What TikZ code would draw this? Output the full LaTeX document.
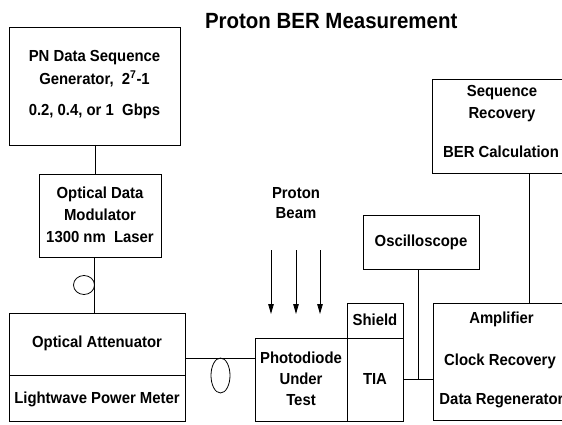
\documentclass[tikz,border=0pt]{standalone}
\usepackage{fontspec}
\setmainfont[FakeStretch=0.93]{Liberation Sans}
\usetikzlibrary{arrows.meta,shapes.geometric}
\begin{document}
\begin{tikzpicture}[x=1pt,y=-1pt,
  every node/.style={inner sep=0pt,outer sep=0pt},
  box/.style={draw,line width=0.8pt,inner sep=0pt,outer sep=0pt},
  lbl/.style={font=\fontsize{16}{19}\selectfont\bfseries},
  conn/.style={line width=0.8pt},
  beam/.style={line width=0.8pt,-{Triangle[length=10pt,width=5.5pt]}}]
\useasboundingbox (0,0) rectangle (562,425);
\clip (0,0) rectangle (562,425);
% title
\node[anchor=west,font=\fontsize{22}{26}\selectfont\bfseries] (title) at (205,21) {Proton BER Measurement};
% boxes
\node[box,minimum width=171pt,minimum height=118pt] (pn) at (94.5,86) {};
\node[box,minimum width=122pt,minimum height=83pt] (mod) at (100,215.5) {};
\node[box,minimum width=176pt,minimum height=62pt] (att) at (97,344) {};
\node[box,minimum width=176pt,minimum height=46pt] (pm) at (97,398) {};
\node[box,minimum width=92pt,minimum height=83pt] (pd) at (301,379.5) {};
\node[box,minimum width=56pt,minimum height=35pt] (sh) at (375,320.5) {};
\node[box,minimum width=56pt,minimum height=83pt] (tia) at (375,379.5) {};
\node[box,minimum width=116pt,minimum height=54pt] (osc) at (421,242) {};
\node[box,minimum width=137pt,minimum height=117pt] (amp) at (501.5,361.5) {};
\node[box,minimum width=138pt,minimum height=94pt] (seq) at (501,126) {};
% texts
\node[lbl] (t1) at (94.5,58) {PN Data Sequence};
\node[lbl] (t2) at (94.5,79) {Generator,\ \ 2\textsuperscript{7}-1};
\node[lbl] (t3) at (94.5,111) {0.2,\ 0.4,\ or 1\ \ Gbps};
\node[lbl] (t4) at (100,194) {Optical Data};
\node[lbl] (t5) at (100,215) {Modulator};
\node[lbl] (t6) at (100,237) {1300 nm\ \ Laser};
\node[lbl] (t7) at (97,343) {Optical Attenuator};
\node[lbl] (t8) at (97,399) {Lightwave Power Meter};
\node[lbl] (t9) at (301,358) {Photodiode};
\node[lbl] (t10) at (301,379) {Under};
\node[lbl] (t11) at (301,400) {Test};
\node[lbl] (t12) at (375,320) {Shield};
\node[lbl] (t13) at (375,379) {TIA};
\node[lbl] (t14) at (421,242) {Oscilloscope};
\node[lbl] (t15) at (501.5,319) {Amplifier};
\node[lbl] (t16) at (500,361) {Clock Recovery};
\node[lbl] (t17) at (501.5,401) {Data Regenerator};
\node[lbl] (t18) at (502,93) {Sequence};
\node[lbl] (t19) at (502,115) {Recovery};
\node[lbl] (t20) at (501,152) {BER Calculation};
\node[lbl] (t21) at (296,193) {Proton};
\node[lbl] (t22) at (296,213) {Beam};
% connectors
\coordinate (a) at (95,0);
\draw[conn] (pn.south -| a) -- (mod.north -| a);
\coordinate (b) at (94.5,0);
\draw[conn] (mod.south -| b) -- (att.north -| b);
\node[draw,line width=0.8pt,ellipse,minimum width=21pt,minimum height=19pt] (loop1) at (84,285) {};
\coordinate (c) at (0,358);
\draw[conn] (att.east |- c) -- (pd.west |- c);
\node[draw,line width=0.8pt,ellipse,minimum width=19pt,minimum height=35pt] (loop2) at (220.5,375.5) {};
\coordinate (d) at (0,379);
\draw[conn] (tia.east |- d) -- (amp.west |- d);
\coordinate (e) at (418,0);
\draw[conn] (osc.south -| e) -- (d -| e);
\coordinate (f) at (529,0);
\draw[conn] (seq.south -| f) -- (amp.north -| f);
% beam arrows
\coordinate (s1) at (271,250); \coordinate (e1) at (271,314);
\coordinate (s2) at (296,250); \coordinate (e2) at (296,314);
\coordinate (s3) at (320,250); \coordinate (e3) at (320,314);
\draw[beam] (s1) -- (e1);
\draw[beam] (s2) -- (e2);
\draw[beam] (s3) -- (e3);
\end{tikzpicture}
\end{document}
